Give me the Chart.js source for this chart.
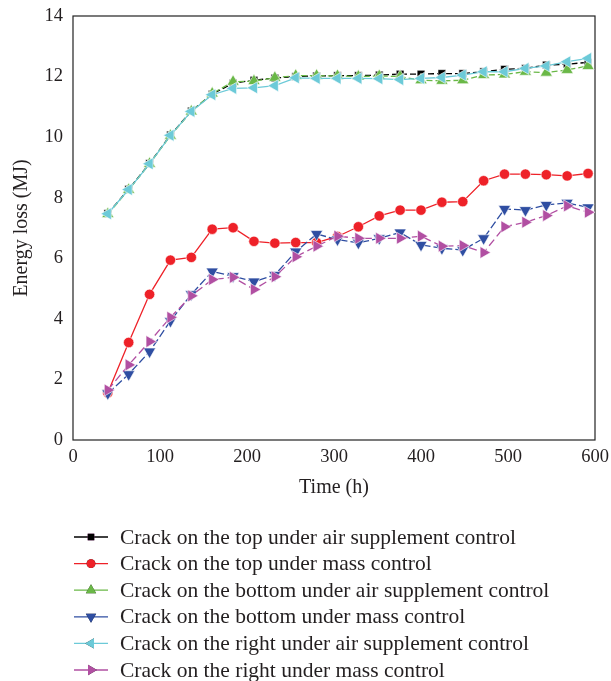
<!DOCTYPE html>
<html lang="en">
<head>
  <meta charset="UTF-8" />
  <title>Energy loss over time</title>
  <script src="https://cdn.jsdelivr.net/npm/chart.js@4.4.0/dist/chart.umd.min.js"></script>
  <style>
    html, body { margin: 0; padding: 0; background: #fff; }
    #wrap { position: relative; width: 611px; height: 681px; }
  </style>
</head>
<body>
<div id="wrap"><canvas id="lossChart" width="611" height="681"></canvas></div>

<script>
// Sampling times (h)
const hours = [40, 64, 88, 112, 136, 160, 184, 208, 232, 256, 280, 304,
               328, 352, 376, 400, 424, 448, 472, 496, 520, 544, 568, 592];

// Energy loss (MJ) per crack position and control mode
const topAir = [7.48, 8.28, 9.13, 10.07, 10.86, 11.42, 11.78, 11.88, 11.95, 12.0, 12.02, 12.03,
                12.03, 12.05, 12.08, 12.08, 12.1, 12.1, 12.16, 12.24, 12.27, 12.38, 12.41, 12.47];
const topMass = [1.56, 3.22, 4.81, 5.94, 6.03, 6.96, 7.01, 6.56, 6.5, 6.52, 6.52, 6.72,
                 7.04, 7.4, 7.59, 7.59, 7.85, 7.87, 8.56, 8.78, 8.78, 8.76, 8.72, 8.8];
const bottomAir = [7.46, 8.26, 9.12, 10.05, 10.85, 11.44, 11.83, 11.85, 11.96, 12.03, 12.03, 12.02,
                   12.0, 12.02, 12.0, 11.88, 11.86, 11.88, 12.05, 12.07, 12.16, 12.13, 12.22, 12.35];
const bottomMass = [1.54, 2.17, 2.92, 3.93, 4.81, 5.56, 5.41, 5.23, 5.45, 6.22, 6.8, 6.62,
                    6.51, 6.66, 6.85, 6.44, 6.33, 6.27, 6.66, 7.63, 7.59, 7.76, 7.83, 7.68];
const rightAir = [7.47, 8.27, 9.12, 10.06, 10.85, 11.4, 11.61, 11.63, 11.7, 11.96, 11.94, 11.94,
                  11.94, 11.93, 11.9, 11.94, 11.97, 12.05, 12.16, 12.16, 12.27, 12.35, 12.49, 12.6];
const rightMass = [1.65, 2.48, 3.25, 4.05, 4.76, 5.3, 5.37, 4.97, 5.39, 6.05, 6.4, 6.73,
                   6.66, 6.66, 6.66, 6.73, 6.4, 6.42, 6.19, 7.04, 7.19, 7.41, 7.73, 7.52];

const seriesLabels = [
  'Crack on the top under air supplement control',
  'Crack on the top under mass control',
  'Crack on the bottom under air supplement control',
  'Crack on the bottom under mass control',
  'Crack on the right under air supplement control',
  'Crack on the right under mass control',
];

const FONT = "'Liberation Serif', 'Times New Roman', serif";
const TEXT = '#231f20';

const styles = [
  { color: '#000000', point: 'rect',     radius: 5.5, rot: 0,   dash: [6, 3] },
  { color: '#ee2128', point: 'circle',   radius: 5.2, rot: 0,   dash: [] },
  { color: '#6ab847', point: 'triangle', radius: 7,   rot: 0,   dash: [6, 3] },
  { color: '#2f4ea2', point: 'triangle', radius: 7,   rot: 180, dash: [8, 3] },
  { color: '#6ccad8', point: 'triangle', radius: 7,   rot: 270, dash: [] },
  { color: '#b14fa2', point: 'triangle', radius: 7,   rot: 90,  dash: [8, 4] },
];

const values = [topAir, topMass, bottomAir, bottomMass, rightAir, rightMass];

const datasets = values.map((vals, i) => ({
  label: seriesLabels[i],
  data: hours.map((h, j) => ({ x: h, y: vals[j] })),
  borderColor: styles[i].color,
  backgroundColor: styles[i].color,
  borderWidth: 1.3,
  borderDash: styles[i].dash,
  pointStyle: styles[i].point,
  pointRadius: styles[i].radius,
  pointRotation: styles[i].rot,
  pointBackgroundColor: styles[i].color,
  pointBorderColor: '#ffffff',
  pointBorderWidth: 0.6,
  tension: 0,
  clip: false,
  order: values.length - i,   // later series drawn on top
}));

// Box around the plot area
const frame = {
  id: 'frame',
  beforeDatasetsDraw(chart) {
    const { ctx, chartArea: a } = chart;
    ctx.save();
    ctx.strokeStyle = '#222';
    ctx.lineWidth = 1.2;
    ctx.strokeRect(a.left, a.top, a.right - a.left, a.bottom - a.top);
    ctx.restore();
  },
};

// Legend under the axes: short line with marker, then label
const sideLegend = {
  id: 'sideLegend',
  afterDraw(chart) {
    const { ctx } = chart;
    const x0 = 74, x1 = 108, tx = 120, y0 = 537, step = 26.6;
    ctx.save();
    ctx.font = `21.5px ${FONT}`;
    ctx.textBaseline = 'middle';
    styles.forEach((s, i) => {
      const y = y0 + i * step;
      ctx.strokeStyle = s.color;
      ctx.lineWidth = 1.3;
      ctx.beginPath();
      ctx.moveTo(x0, y);
      ctx.lineTo(x1, y);
      ctx.stroke();
      Chart.helpers.drawPoint(ctx, {
        pointStyle: s.point,
        radius: s.radius * 0.85,
        rotation: s.rot,
        borderWidth: 0,
      }, (x0 + x1) / 2, y);
      ctx.fillStyle = s.color;
      ctx.fill();
      ctx.fillStyle = TEXT;
      ctx.fillText(seriesLabels[i], tx, y + 1);
    });
    ctx.restore();
  },
};

// fixed axis boxes; tick labels may hang past the plot edges
function fixX(s) {
  s.height = 60;
  s.paddingLeft = 0; s.paddingRight = 0;
}
function fixY(s) {
  s.width = 73;
  s.paddingTop = 0; s.paddingBottom = 0;
}

new Chart(document.getElementById('lossChart'), {
  type: 'line',
  data: { datasets },
  plugins: [frame, sideLegend],
  options: {
    responsive: false,
    animation: false,
    layout: { padding: { left: 0, top: 16, right: 16, bottom: 181 } },
    plugins: { legend: { display: false }, tooltip: { enabled: false } },
    scales: {
      x: {
        type: 'linear',
        min: 0, max: 600,
        afterFit: fixX,
        grid: { display: false, drawTicks: false },
        border: { display: false },
        ticks: { stepSize: 100, padding: 6, color: TEXT, font: { family: FONT, size: 18.5 } },
        title: { display: true, text: 'Time (h)', color: TEXT, padding: { top: 0, bottom: 0 },
                 font: { family: FONT, size: 20 } },
      },
      y: {
        min: 0, max: 14,
        afterFit: fixY,
        grid: { display: false, drawTicks: false },
        border: { display: false },
        ticks: { stepSize: 2, padding: 10, color: TEXT, font: { family: FONT, size: 18.5 } },
        title: { display: true, text: 'Energy loss (MJ)', color: TEXT, padding: { top: 10, bottom: 10 },
                 font: { family: FONT, size: 20 } },
      },
    },
  },
});
</script>
</body>
</html>
